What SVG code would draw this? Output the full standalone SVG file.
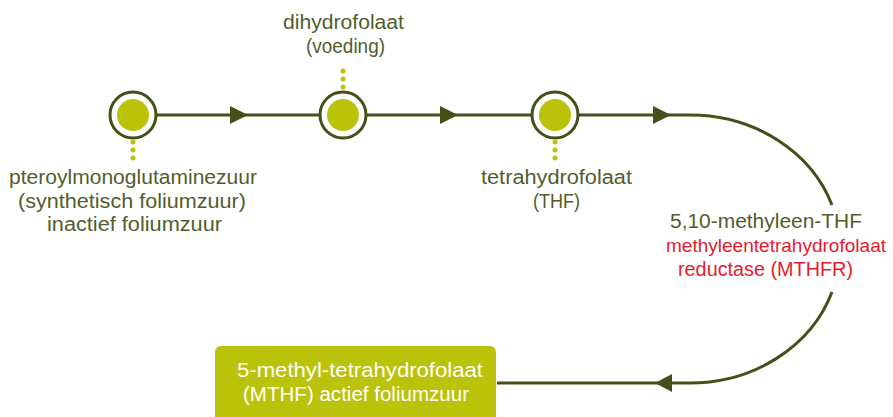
<svg xmlns="http://www.w3.org/2000/svg" width="893" height="417" viewBox="0 0 893 417">
<defs>
<style>
.t{font-family:"Liberation Sans",Arial,sans-serif;font-size:20px;fill:#525d2c}
.r{fill:#e8192c}
.s{font-size:19px}
.w{fill:#ffffff}
.ln{fill:none;stroke:#435018;stroke-width:3}
.ring{fill:#ffffff;stroke:#435018;stroke-width:3}
.core{fill:#bbc20a}
.dot{fill:#bbc20a}
</style>
</defs>
<rect width="893" height="417" fill="#ffffff"/>
<g id="connectors">
<path class="ln" d="M157,115 H320"/>
<path class="ln" d="M367,115 H531"/>
<path class="ln" d="M579,115 H690 A150,134 0 0 1 832,205"/>
<path class="ln" d="M832,292 A150,134 0 0 1 690,383 H497"/>
<path d="M230,106 L248,115 L230,124 z" fill="#435018"/>
<path d="M440,106 L458,115 L440,124 z" fill="#435018"/>
<path d="M653,106 L671,115 L653,124 z" fill="#435018"/>
<path d="M672,374 L655,383 L672,392 z" fill="#435018"/>
</g>
<g id="node-pteroyl">
<circle class="ring" cx="133" cy="115" r="23"/>
<circle class="core" cx="133" cy="115" r="16"/>
<circle class="dot" cx="133" cy="142" r="2.5"/>
<circle class="dot" cx="133" cy="150" r="2.5"/>
<circle class="dot" cx="133" cy="158" r="2.5"/>
<text class="t" x="9" y="184" textLength="248" lengthAdjust="spacingAndGlyphs">pteroylmonoglutaminezuur</text>
<text class="t" x="18" y="208" textLength="228" lengthAdjust="spacingAndGlyphs">(synthetisch foliumzuur)</text>
<text class="t" x="47" y="231" textLength="175" lengthAdjust="spacingAndGlyphs">inactief foliumzuur</text>
</g>
<g id="node-dihydrofolaat">
<circle class="ring" cx="343" cy="115" r="23"/>
<circle class="core" cx="343" cy="115" r="16"/>
<circle class="dot" cx="343" cy="71" r="2.5"/>
<circle class="dot" cx="343" cy="79" r="2.5"/>
<circle class="dot" cx="343" cy="87" r="2.5"/>
<text class="t" x="283" y="29" textLength="121" lengthAdjust="spacingAndGlyphs">dihydrofolaat</text>
<text class="t" x="306" y="53" textLength="79" lengthAdjust="spacingAndGlyphs">(voeding)</text>
</g>
<g id="node-thf">
<circle class="ring" cx="555" cy="115" r="23"/>
<circle class="core" cx="555" cy="115" r="16"/>
<circle class="dot" cx="555" cy="142" r="2.5"/>
<circle class="dot" cx="555" cy="150" r="2.5"/>
<circle class="dot" cx="555" cy="158" r="2.5"/>
<text class="t" x="481" y="184" textLength="151" lengthAdjust="spacingAndGlyphs">tetrahydrofolaat</text>
<text class="t" x="533" y="208" textLength="47" lengthAdjust="spacingAndGlyphs">(THF)</text>
</g>
<g id="node-mthfr">
<text class="t" x="670" y="228" textLength="192" lengthAdjust="spacingAndGlyphs">5,10-methyleen-THF</text>
<text class="t r s" x="666" y="252" textLength="220" lengthAdjust="spacingAndGlyphs">methyleentetrahydrofolaat</text>
<text class="t r" x="678" y="276" textLength="175" lengthAdjust="spacingAndGlyphs">reductase (MTHFR)</text>
</g>
<g id="node-mthf">
<rect x="215" y="346" width="281" height="80" rx="6" fill="#bbc20a"/>
<text class="t w" x="237" y="377" textLength="246" lengthAdjust="spacingAndGlyphs">5-methyl-tetrahydrofolaat</text>
<text class="t w" x="243" y="401" textLength="226" lengthAdjust="spacingAndGlyphs">(MTHF) actief foliumzuur</text>
</g>
</svg>
